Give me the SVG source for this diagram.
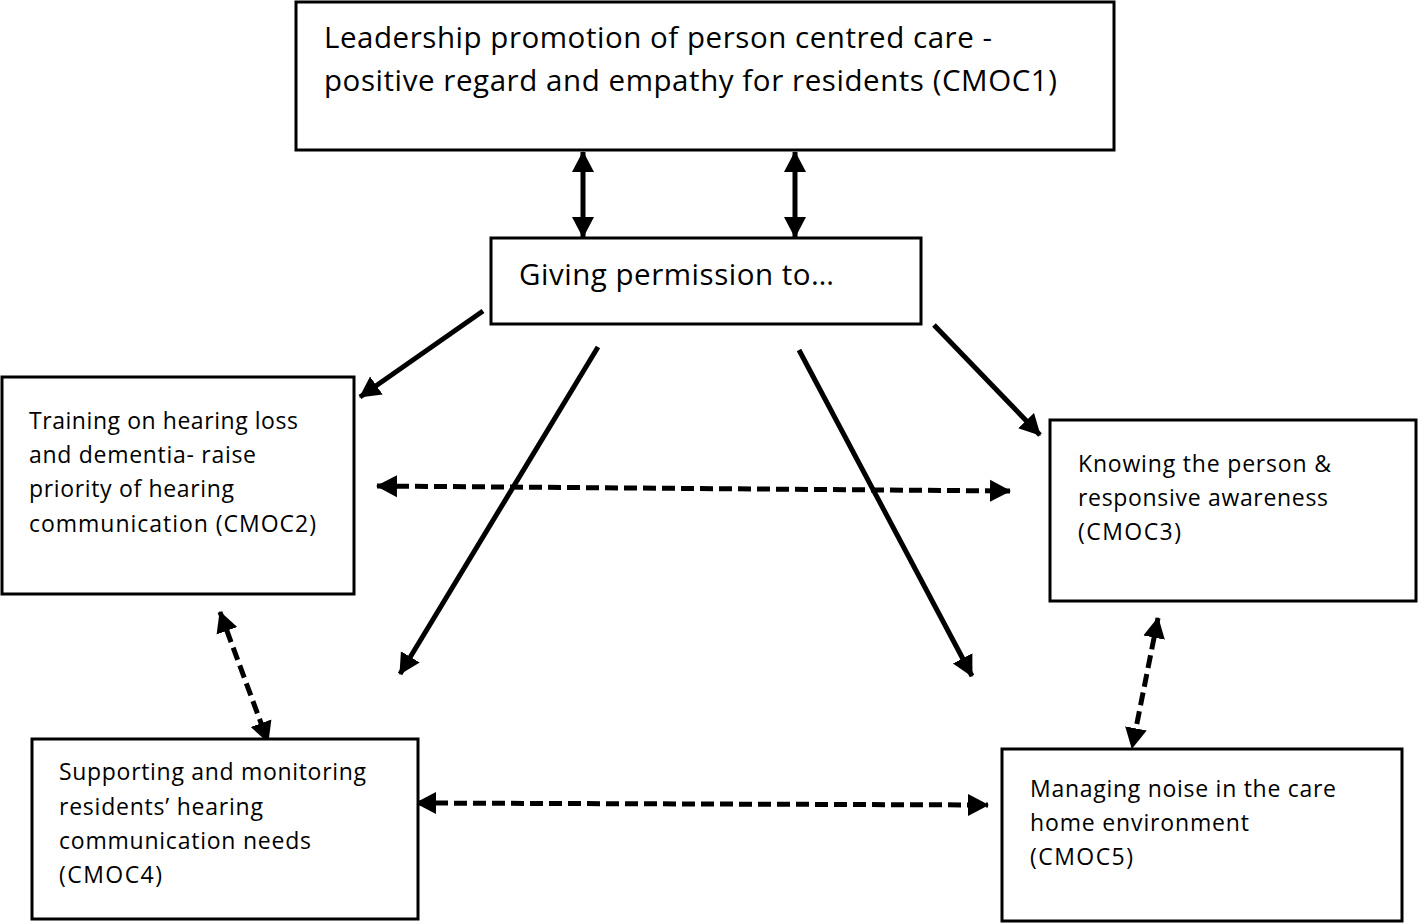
<svg xmlns="http://www.w3.org/2000/svg" width="1418" height="924" viewBox="0 0 1418 924">
<style>
.box{fill:#fff;stroke:#000;stroke-width:3}
.big{font-family:"Open Sans","Liberation Sans",sans-serif;font-size:29.5px;fill:#000}
.sm{font-family:"Open Sans","Liberation Sans",sans-serif;font-size:23px;fill:#000}
.ln{stroke:#000;stroke-width:5;fill:none}
.ds{stroke:#000;stroke-width:5;fill:none;stroke-dasharray:13 6}
.ar{marker-end:url(#ah)}
.dbl{marker-start:url(#ah);marker-end:url(#ah)}
</style>
<defs>
<marker id="ah" markerUnits="userSpaceOnUse" markerWidth="24" markerHeight="24" viewBox="0 0 24 24" refX="20" refY="12" orient="auto-start-reverse">
<path d="M0,1 L21,12 L0,23 Z" fill="#000"/>
</marker>
</defs>
<rect width="1418" height="924" fill="#fff"/>
<g id="connectors">
<line class="ln dbl" x1="583" y1="152" x2="583" y2="237"/>
<line class="ln dbl" x1="795" y1="152" x2="795" y2="237"/>
<line class="ln ar" x1="483" y1="311" x2="360" y2="397"/>
<line class="ln ar" x1="598" y1="347" x2="400" y2="674"/>
<line class="ln ar" x1="799" y1="350" x2="972" y2="676"/>
<line class="ln ar" x1="934" y1="325" x2="1040" y2="435"/>
<line class="ds dbl" x1="377" y1="486" x2="1010" y2="491"/>
<line class="ds dbl" x1="220" y1="612" x2="268" y2="742"/>
<line class="ds dbl" x1="1158" y1="618" x2="1132" y2="748"/>
<line class="ds dbl" x1="416" y1="803" x2="988" y2="805"/>
</g>
<g id="cmoc1">
<rect class="box" x="296" y="2" width="818" height="148"/>
<text class="big" x="324" y="48" textLength="668">Leadership promotion of person centred care -</text>
<text class="big" x="324" y="91" textLength="733">positive regard and empathy for residents (CMOC1)</text>
</g>
<g id="giving">
<rect class="box" x="491" y="238" width="430" height="86"/>
<text class="big" x="519" y="285" textLength="315">Giving permission to…</text>
</g>
<g id="cmoc2">
<rect class="box" x="2" y="377" width="352" height="217"/>
<text class="sm" x="29" y="429" textLength="269">Training on hearing loss</text>
<text class="sm" x="29" y="463" textLength="227">and dementia- raise</text>
<text class="sm" x="29" y="497" textLength="205">priority of hearing</text>
<text class="sm" x="29" y="532" textLength="287">communication (CMOC2)</text>
</g>
<g id="cmoc3">
<rect class="box" x="1050" y="420" width="366" height="181"/>
<text class="sm" x="1078" y="472" textLength="253">Knowing the person &amp;</text>
<text class="sm" x="1078" y="506" textLength="250">responsive awareness</text>
<text class="sm" x="1078" y="540" textLength="103">(CMOC3)</text>
</g>
<g id="cmoc4">
<rect class="box" x="32" y="739" width="386" height="180"/>
<text class="sm" x="59" y="780" textLength="307">Supporting and monitoring</text>
<text class="sm" x="59" y="815" textLength="204">residents’ hearing</text>
<text class="sm" x="59" y="849" textLength="252">communication needs</text>
<text class="sm" x="59" y="883" textLength="103">(CMOC4)</text>
</g>
<g id="cmoc5">
<rect class="box" x="1002" y="749" width="400" height="172"/>
<text class="sm" x="1030" y="797" textLength="306">Managing noise in the care</text>
<text class="sm" x="1030" y="831" textLength="219">home environment</text>
<text class="sm" x="1030" y="865" textLength="103">(CMOC5)</text>
</g>
</svg>
